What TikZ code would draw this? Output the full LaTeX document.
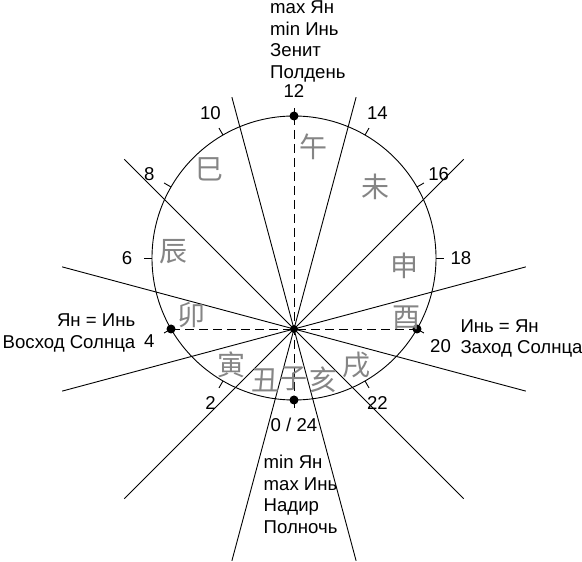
\documentclass[tikz,border=0pt]{standalone}
\usepackage{fontspec}
\setmainfont{Liberation Sans}
\newfontfamily\cjk{Noto Sans CJK SC}
\usepackage{xcolor}
\usepackage{tikz}
\usetikzlibrary{calc}
\definecolor{branchgray}{HTML}{858585}

\begin{document}
\begin{tikzpicture}[x=1pt, y=1pt,
    every node/.style={font=\fontsize{18.6}{21.5}\selectfont, inner sep=0pt},
    branch/.style={font=\cjk\fontsize{28}{28}\selectfont, text=branchgray},
    rayline/.style={line width=0.9pt},
    axisline/.style={line width=0.9pt, dash pattern=on 9pt off 5pt},
    hourdot/.style={circle, fill=black, inner sep=0pt, minimum size=9pt}]
    \useasboundingbox (0,0) rectangle (582,562);
    \def\rad{142}
    \def\ray{240}

    % Circle and the off-centre meeting point
    \coordinate (C) at (294,304);
    \coordinate (P) at ($(C)+(0,-\rad/2)$);
    \draw[line width=0.9pt] (C) circle (\rad);

    % Six lines through P, 30 degrees apart
    \draw[rayline] ($(P)+(15:\ray)$) -- ($(P)+(195:\ray)$);
    \draw[rayline] ($(P)+(45:\ray)$) -- ($(P)+(225:\ray)$);
    \draw[rayline] ($(P)+(75:\ray)$) -- ($(P)+(255:\ray)$);
    \draw[rayline] ($(P)+(105:\ray)$) -- ($(P)+(285:\ray)$);
    \draw[rayline] ($(P)+(135:\ray)$) -- ($(P)+(315:\ray)$);
    \draw[rayline] ($(P)+(165:\ray)$) -- ($(P)+(345:\ray)$);

    % Hour ticks and numbers
    \foreach \h/\lbl in {0/{0 / 24},2/2,4/4,6/6,8/8,10/10,12/12,14/14,16/16,18/18,22/22} {
        \coordinate (h\h) at ($(C)+(270-15*\h:\rad)$);
        \draw[line width=0.9pt] (h\h) -- ($(C)+(270-15*\h:\rad+8)$);
        \node (t\h) at ($(C)+(270-15*\h:167)$) {\lbl};
    }
    \coordinate (h20) at ($(C)+(-30:\rad)$);
    \draw[line width=0.9pt] (h20) -- ($(C)+(-30:\rad+8)$);
    \node (t20) at ($(C)+(-31:171)$) {20};

    % Dashed axes
    \draw[axisline] (h12) -- (h0);
    \draw[axisline] (h4) -- (h20);

    % Dots
    \node[hourdot] (d12) at (h12) {};
    \node[hourdot] (d0) at (h0) {};
    \node[hourdot] (d4) at (h4) {};
    \node[hourdot] (d20) at (h20) {};
    \node[hourdot, minimum size=8pt] (dP) at (P) {};

    % Earthly branches
    \node[branch] (wu) at (313.7,415) {午};
    \node[branch] (wei) at (375.3,375.5) {未};
    \node[branch] (shen) at (404.8,296) {申};
    \node[branch] (you) at (406.2,244) {酉};
    \node[branch] (xu) at (356.5,196.8) {戌};
    \node[branch] (hai) at (323.2,182) {亥};
    \node[branch] (zi) at (293.5,183) {子};
    \node[branch] (chou) at (265.2,182) {丑};
    \node[branch] (yin) at (231.8,196.8) {寅};
    \node[branch] (mao) at (191.8,246.8) {卯};
    \node[branch] (chen) at (173,310) {辰};
    \node[branch] (si) at (209.8,393) {巳};

    % Text blocks
    \node[anchor=west, align=left] (noon) at (270,520.75) {max Ян\\min Инь\\Зенит\\Полдень};
    \node[anchor=west, align=left] (midnight) at (263.5,67.4) {min Ян\\max Инь\\Надир\\Полночь};
    \node[anchor=east, align=right] (sunrise) at (135.5,229.25) {Ян = Инь\\Восход Солнца};
    \node[anchor=west, align=left] (sunset) at (460.3,223.75) {Инь = Ян\\Заход Солнца};
\end{tikzpicture}
\end{document}
